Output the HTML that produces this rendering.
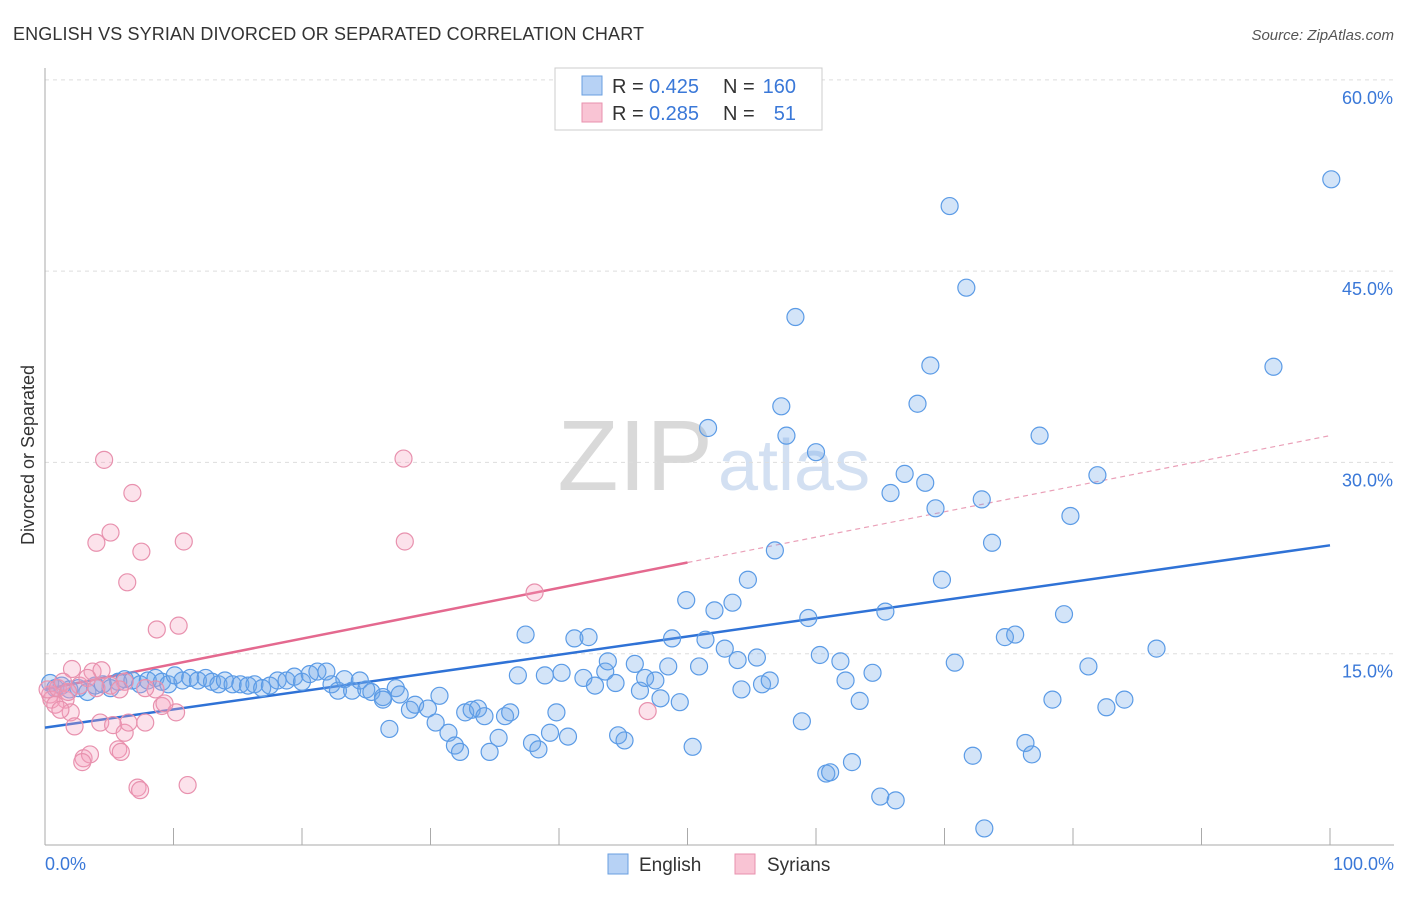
<!DOCTYPE html>
<html><head><meta charset="utf-8"><style>
body{margin:0;background:#fff;font-family:"Liberation Sans",sans-serif;}
svg text{font-family:"Liberation Sans",sans-serif;}
</style></head><body>
<svg id="chart" width="1406" height="892" xmlns="http://www.w3.org/2000/svg">
<text x="13" y="40" font-size="18" fill="#333" textLength="631">ENGLISH VS SYRIAN DIVORCED OR SEPARATED CORRELATION CHART</text>
<text x="1394" y="40" font-size="15" fill="#555" font-style="italic" text-anchor="end">Source: ZipAtlas.com</text>
<text x="34" y="455" font-size="18" fill="#333" text-anchor="middle" transform="rotate(-90 34 455)">Divorced or Separated</text>
<text x="713" y="490" font-size="100" fill="#d9d9d9" font-family="Liberation Serif" text-anchor="end">ZIP</text>
<text x="718" y="490" font-size="72" fill="#d3e0f2">atlas</text>
<g id="grid"></g><g id="axes"></g><g id="trends"></g><g id="pts"></g>
<g>
<rect x="555" y="68" width="267" height="62" fill="#fff" stroke="#ccc"/>
<rect x="582" y="76" width="20" height="19" fill="#b7d2f5" stroke="#6a9fe0"/>
<rect x="582" y="103" width="20" height="19" fill="#f9c4d4" stroke="#e891ae"/>
<text x="612" y="93" font-size="20" fill="#333">R =</text>
<text x="649" y="93" font-size="20" fill="#3a78d8">0.425</text>
<text x="723" y="93" font-size="20" fill="#333">N =</text>
<text x="796" y="93" font-size="20" fill="#3a78d8" text-anchor="end">160</text>
<text x="612" y="120" font-size="20" fill="#333">R =</text>
<text x="649" y="120" font-size="20" fill="#3a78d8">0.285</text>
<text x="723" y="120" font-size="20" fill="#333">N =</text>
<text x="796" y="120" font-size="20" fill="#3a78d8" text-anchor="end">51</text>
</g>
<g>
<rect x="608" y="854" width="20" height="20" fill="#b7d2f5" stroke="#6a9fe0"/>
<text x="639" y="871" font-size="19" fill="#333">English</text>
<rect x="735" y="854" width="20" height="20" fill="#f9c4d4" stroke="#e891ae"/>
<text x="767" y="871" font-size="19" fill="#333">Syrians</text>
</g>
</svg>
<script>
const yTicks=[15,30,45,60];
const yTickLabels=["15.0%","30.0%","45.0%","60.0%"];
const xTicks=[0,10,20,30,40,50,60,70,80,90,100];
const englishX=[0.4,0.8,1.3,1.9,2.6,3.3,3.9,4.5,5.1,5.7,6.2,6.8,7.4,8.0,8.6,9.1,9.6,10.1,10.7,11.3,11.9,12.5,13.0,13.5,14.0,14.6,15.2,15.8,16.3,16.9,17.5,18.1,18.8,19.4,20.0,20.6,21.2,21.9,22.3,22.8,23.3,23.9,24.5,25.0,25.4,26.3,27.3,27.6,26.3,28.4,28.8,29.8,30.4,30.7,31.4,31.9,32.3,32.7,33.2,33.7,34.2,34.6,35.3,35.8,36.2,26.8,36.8,37.4,37.9,38.4,38.9,39.3,39.8,40.2,40.7,41.2,41.9,42.3,42.8,43.6,43.8,44.4,44.6,45.1,45.9,46.3,46.7,47.5,47.9,48.5,48.8,49.4,49.9,50.4,50.9,51.4,51.6,52.1,52.9,53.5,53.9,54.2,54.7,55.4,55.8,56.4,56.8,57.3,57.7,58.4,58.9,59.4,60.0,60.3,60.8,61.1,61.9,62.3,62.8,63.4,64.4,65.0,65.4,65.8,66.2,66.9,67.9,68.5,68.9,69.3,69.8,70.4,70.8,71.7,72.2,72.9,73.1,73.7,74.7,75.5,76.3,76.8,77.4,78.4,79.3,79.8,81.2,81.9,82.6,84.0,86.5,95.6,100.1];
const englishY=[12.7,12.3,12.5,12.2,12.3,12.0,12.5,12.6,12.3,12.8,13.0,12.9,12.6,12.9,13.1,12.8,12.6,13.3,12.9,13.1,12.9,13.1,12.8,12.6,12.9,12.6,12.6,12.5,12.6,12.3,12.5,12.9,12.9,13.2,12.8,13.4,13.6,13.6,12.6,12.1,13.0,12.1,12.9,12.2,12.0,11.6,12.3,11.8,11.4,10.6,11.0,10.7,9.6,11.7,8.8,7.8,7.3,10.4,10.6,10.7,10.1,7.3,8.4,10.1,10.4,9.1,13.3,16.5,8.0,7.5,13.3,8.8,10.4,13.5,8.5,16.2,13.1,16.3,12.5,13.6,14.4,12.7,8.6,8.2,14.2,12.1,13.1,12.9,11.5,14.0,16.2,11.2,19.2,7.7,14.0,16.1,32.7,18.4,15.4,19.0,14.5,12.2,20.8,14.7,12.6,12.9,23.1,34.4,32.1,41.4,9.7,17.8,30.8,14.9,5.6,5.7,14.4,12.9,6.5,11.3,13.5,3.8,18.3,27.6,3.5,29.1,34.6,28.4,37.6,26.4,20.8,50.1,14.3,43.7,7.0,27.1,1.3,23.7,16.3,16.5,8.0,7.1,32.1,11.4,18.1,25.8,14.0,29.0,10.8,11.4,15.4,37.5,52.2];
const syrianX=[4.6,6.8,5.1,4.0,7.5,10.8,6.4,8.7,10.4,27.9,28.0,38.1,46.9,2.1,3.7,4.4,0.4,0.5,0.2,1.0,1.6,2.0,2.3,3.0,3.5,2.9,4.3,5.3,5.7,5.9,6.2,6.5,7.8,7.2,7.4,11.1,9.1,10.2,8.6,6.2,1.4,2.7,5.1,0.8,1.8,3.3,7.8,9.3,5.8,1.2,4.0];
const syrianY=[30.2,27.6,24.5,23.7,23.0,23.8,20.6,16.9,17.2,30.3,23.8,19.8,10.5,13.8,13.6,13.7,11.8,11.4,12.2,12.3,11.4,10.4,9.3,6.8,7.1,6.5,9.6,9.4,7.5,7.3,8.8,9.6,9.6,4.5,4.3,4.7,10.9,10.4,12.2,12.8,12.8,12.5,12.5,11.0,12.0,13.1,12.3,11.1,12.2,10.6,12.3];
const englishTrend=[9.2,23.5];
const syrianTrend=[12.2,32.1];
const syrianSolidEnd=50;
const NS="http://www.w3.org/2000/svg";
const X=v=>45+v*12.85, Y=v=>845-v*12.753;
function mk(tag,attrs,parent){const e=document.createElementNS(NS,tag);for(const k in attrs)e.setAttribute(k,attrs[k]);document.getElementById(parent).appendChild(e);return e;}
yTicks.forEach((t,i)=>{
 const g=mk('line',{x1:45,x2:1394,y1:Y(t),y2:Y(t),stroke:'#ddd','stroke-dasharray':'4,4'},'grid');
 
 
 const tx=mk('text',{x:1393,y:Y(t)+24,'font-size':18,fill:'#3a78d8','text-anchor':'end'},'grid');
 tx.textContent=yTickLabels[i];
 
 
});
const ax=mk('line',{x1:45,x2:45,y1:68,y2:845,stroke:'#aaa'},'axes');


const bx=mk('line',{x1:45,x2:1394,y1:845,y2:845,stroke:'#aaa'},'axes');


xTicks.forEach(t=>{
 const l=mk('line',{x1:X(t),x2:X(t),y1:828,y2:845,stroke:'#aaa'},'axes');
 
 
});
[[0,"0.0%",'start',45],[100,"100.0%",'end',1394]].forEach(a=>{
 const t=mk('text',{x:a[3],y:870,'font-size':18,fill:'#3a78d8','text-anchor':a[2]},'axes');
 t.textContent=a[1];
 
 
});
englishX.forEach((x,i)=>{
 const c=mk('circle',{cx:X(x),cy:Y(englishY[i]),r:8.5,fill:'rgba(110,165,232,0.3)',stroke:'#5b9be6','stroke-width':1.2},'pts');
 
 
});
syrianX.forEach((x,i)=>{
 const c=mk('circle',{cx:X(x),cy:Y(syrianY[i]),r:8.5,fill:'rgba(244,160,188,0.3)',stroke:'#e891ae','stroke-width':1.2},'pts');
 
 
});
const et=mk('line',{x1:X(0),y1:Y(englishTrend[0]),x2:X(100),y2:Y(englishTrend[1]),stroke:'#2f72d6','stroke-width':2.5},'trends');


const sm=syrianTrend[0]+(syrianTrend[1]-syrianTrend[0])*syrianSolidEnd/100;
const st=mk('line',{x1:X(0),y1:Y(syrianTrend[0]),x2:X(syrianSolidEnd),y2:Y(sm),stroke:'#e4698f','stroke-width':2.5},'trends');


const sd=mk('line',{x1:X(syrianSolidEnd),y1:Y(sm),x2:X(100),y2:Y(syrianTrend[1]),stroke:'#eaa0b8','stroke-width':1.2,'stroke-dasharray':'5,4'},'trends');


</script>
</body></html>
